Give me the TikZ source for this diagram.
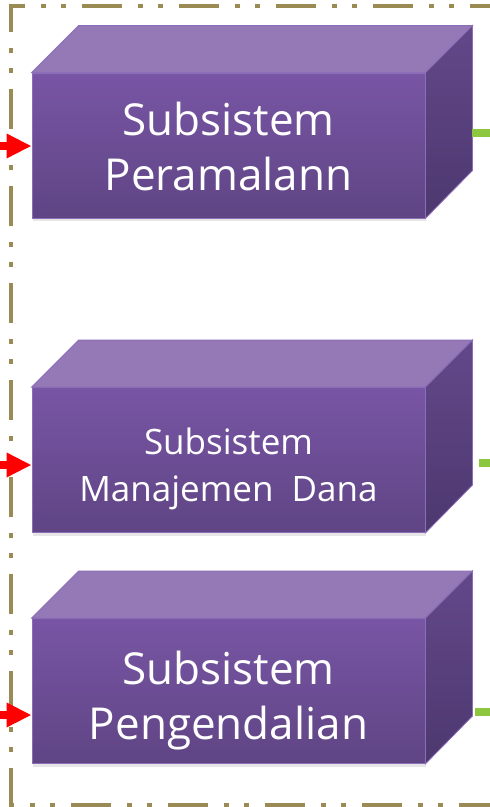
\documentclass[tikz,border=0pt]{standalone}
\usepackage{fontspec}
\setmainfont{Open Sans}
\usetikzlibrary{arrows.meta,shadows,calc}
\definecolor{frameolive}{HTML}{9A8B55}
\definecolor{facetop}{HTML}{9479B6}
\definecolor{frontlight}{HTML}{7855A5}
\definecolor{frontdark}{HTML}{5F4584}
\definecolor{sidelight}{HTML}{634889}
\definecolor{sidedark}{HTML}{4D386F}
\definecolor{edgeviolet}{HTML}{8B6DB8}
\definecolor{arrowred}{HTML}{FF0000}
\definecolor{linkgreen}{HTML}{8DC63F}

\begin{document}
\begin{tikzpicture}
  [x=1pt,y=-1pt,
   front/.style={rectangle,minimum width=393pt,minimum height=145pt,inner sep=0pt,
     top color=frontlight,bottom color=frontdark,draw=edgeviolet,line width=.8pt,
     drop shadow={opacity=.2,shadow xshift=1pt,shadow yshift=-3pt}},
   caption/.style={text=white,align=center,inner sep=0pt},
   big/.style={font=\fontsize{44}{55}\selectfont},
   small/.style={font=\fontsize{35}{47}\selectfont},
   input/.style={-{Triangle[length=25pt,width=23pt]},line width=8pt,arrowred},
   output/.style={line width=8pt,linkgreen}]
  \useasboundingbox (0,0) rectangle (490,807);

  % frame
  \draw[frameolive,line width=4pt,
    dash pattern=on 40pt off 16pt on 5pt off 15pt on 5pt off 16pt,dash phase=10pt]
    (500,6) -- (11,6) -- (11,805) -- (500,805);

  % boxes
  \node[front] (b1) at (228.5,145.5) {};
  \node[front] (b2) at (228.5,460) {};
  \node[front] (b3) at (228.5,691) {};

  \foreach \b in {b1,b2,b3}{
    \fill[facetop,draw=edgeviolet,line width=.8pt]
      (\b.north west) -- ++(47,-47) -- ($(\b.north east)+(47,-47)$) -- (\b.north east) -- cycle;
    \shade[top color=sidelight,bottom color=sidedark,draw=edgeviolet,line width=.8pt]
      (\b.north east) -- ++(47,-47) -- ++(0,145) -- (\b.south east) -- cycle;
    \path (\b.north east) ++(47,-47) coordinate (\b r);
  }

  \node[caption,big] (t1) at ([yshift=-1pt]b1.center) {Subsistem\\Peramalann};
  \node[caption,small] (t2) at ([yshift=-9pt]b2.center) {Subsistem\\Manajemen~~Dana};
  \node[caption,big] (t3) at ([yshift=-10pt]b3.center) {Subsistem\\Pengendalian};

  % inputs
  \coordinate (in1) at (0,146);
  \coordinate (in2) at (0,465);
  \coordinate (in3) at (0,715);
  \draw[input] (in1) -- (in1 -| b1.west);
  \draw[input] (in2) -- (in2 -| b2.west);
  \draw[input] (in3) -- (in3 -| b3.west);

  % outputs
  \coordinate (out1) at (490,133);
  \coordinate (out2) at (490,463);
  \coordinate (out3) at (490,712);
  \draw[output] (out1 -| b1r) -- (out1);
  \draw[output] ([xshift=7pt]out2 -| b2r) -- (out2);
  \draw[output] ([xshift=3pt]out3 -| b3r) -- (out3);
\end{tikzpicture}
\end{document}
